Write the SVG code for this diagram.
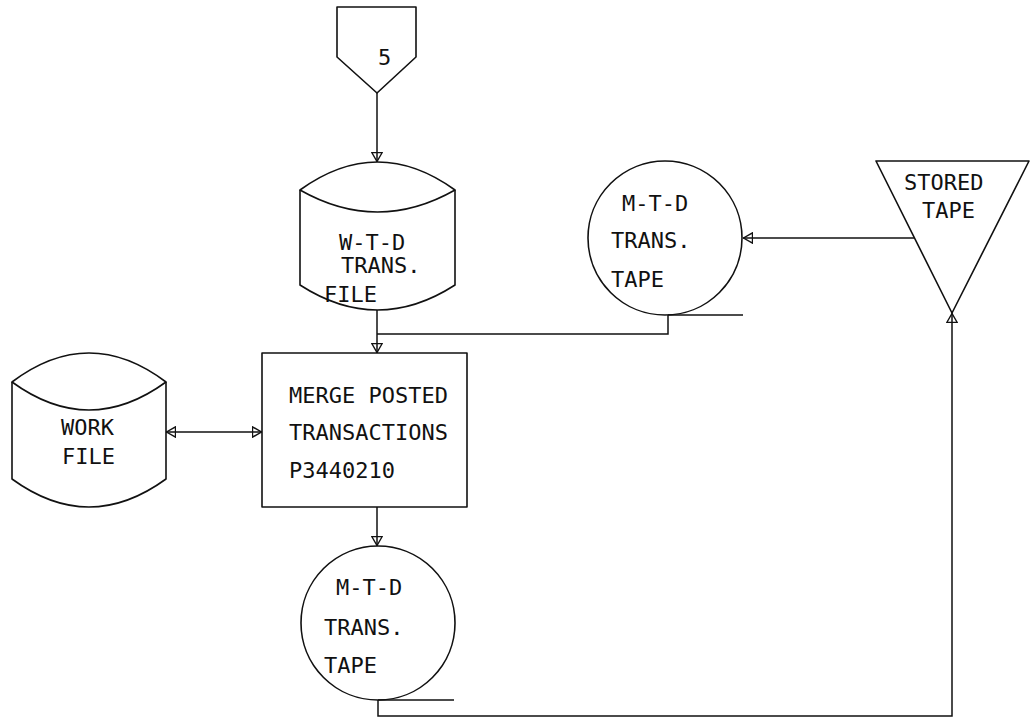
<svg xmlns="http://www.w3.org/2000/svg" width="1031" height="719" viewBox="0 0 1031 719">
  <style>
    .shape { fill: none; stroke: #111; stroke-width: 1.6; stroke-linejoin: round; }
    .wire { fill: none; stroke: #111; stroke-width: 1.5; }
    .lbl { font-family: "DejaVu Sans Mono", "Liberation Mono", monospace; font-size: 22px; fill: #111; }
  </style>
  <defs>
    <marker id="arrow" viewBox="0 0 10 12" refX="10" refY="6" markerWidth="10" markerHeight="12" markerUnits="userSpaceOnUse" orient="auto-start-reverse">
      <path d="M0.5,0.8 L9.5,6 L0.5,11.2 Z" fill="none" stroke="#111" stroke-width="1.4"/>
    </marker>
  </defs>
  <rect width="1031" height="719" fill="#fff"/>

  <!-- off-page connector 5 -->
  <g id="connector-5">
    <path class="shape" d="M337,7 L416,7 L416,57 L377,93 L337,57 Z"/>
    <text class="lbl" x="378" y="65">5</text>
  </g>

  <!-- W-T-D transaction file (disk) -->
  <g id="wtd-file">
    <path class="shape" d="M300,190 Q377.5,134 455,190 Q377.5,234 300,190 Z"/>
    <path class="shape" d="M300,190 L300,285 Q377.5,335 455,285 L455,190"/>
    <text class="lbl" x="339" y="250">W-T-D</text>
    <text class="lbl" x="341" y="273">TRANS.</text>
    <text class="lbl" x="324" y="302">FILE</text>
  </g>

  <!-- M-T-D transaction tape (input) -->
  <g id="mtd-tape-in">
    <circle class="shape" cx="665" cy="238" r="77"/>
    <path class="shape" d="M668,315 L743,315"/>
    <text class="lbl" x="622" y="211">M-T-D</text>
    <text class="lbl" x="611" y="248">TRANS.</text>
    <text class="lbl" x="611" y="287">TAPE</text>
  </g>

  <!-- stored tape (offline storage) -->
  <g id="stored-tape">
    <path class="shape" d="M876,161 L1029,161 L952,313 Z"/>
    <text class="lbl" x="904" y="190">STORED</text>
    <text class="lbl" x="922" y="218">TAPE</text>
  </g>

  <!-- work file (disk) -->
  <g id="work-file">
    <path class="shape" d="M12,382 Q89,324 166,382 Q89,438 12,382 Z"/>
    <path class="shape" d="M12,382 L12,479 Q89,535 166,479 L166,382"/>
    <text class="lbl" x="61" y="435">WORK</text>
    <text class="lbl" x="62" y="464">FILE</text>
  </g>

  <!-- merge process -->
  <g id="merge-process">
    <rect class="shape" x="262" y="353" width="205" height="154"/>
    <text class="lbl" x="289" y="403">MERGE POSTED</text>
    <text class="lbl" x="289" y="440">TRANSACTIONS</text>
    <text class="lbl" x="289" y="478">P3440210</text>
  </g>

  <!-- M-T-D transaction tape (output) -->
  <g id="mtd-tape-out">
    <circle class="shape" cx="378" cy="623" r="77"/>
    <path class="shape" d="M378,700 L454,700"/>
    <text class="lbl" x="336" y="595">M-T-D</text>
    <text class="lbl" x="324" y="635">TRANS.</text>
    <text class="lbl" x="324" y="673">TAPE</text>
  </g>

  <!-- flow lines -->
  <g id="connectors">
    <path class="wire" d="M377,93 L377,162" marker-end="url(#arrow)"/>
    <path class="wire" d="M377,310 L377,353" marker-end="url(#arrow)"/>
    <path class="wire" d="M668,315 L668,334 L377,334"/>
    <path class="wire" d="M914,238 L743,238" marker-end="url(#arrow)"/>
    <path class="wire" d="M166,432 L262,432" marker-start="url(#arrow)" marker-end="url(#arrow)"/>
    <path class="wire" d="M377,507 L377,546" marker-end="url(#arrow)"/>
    <path class="wire" d="M378,700 L378,716 L952,716 L952,313" marker-end="url(#arrow)"/>
  </g>
</svg>
